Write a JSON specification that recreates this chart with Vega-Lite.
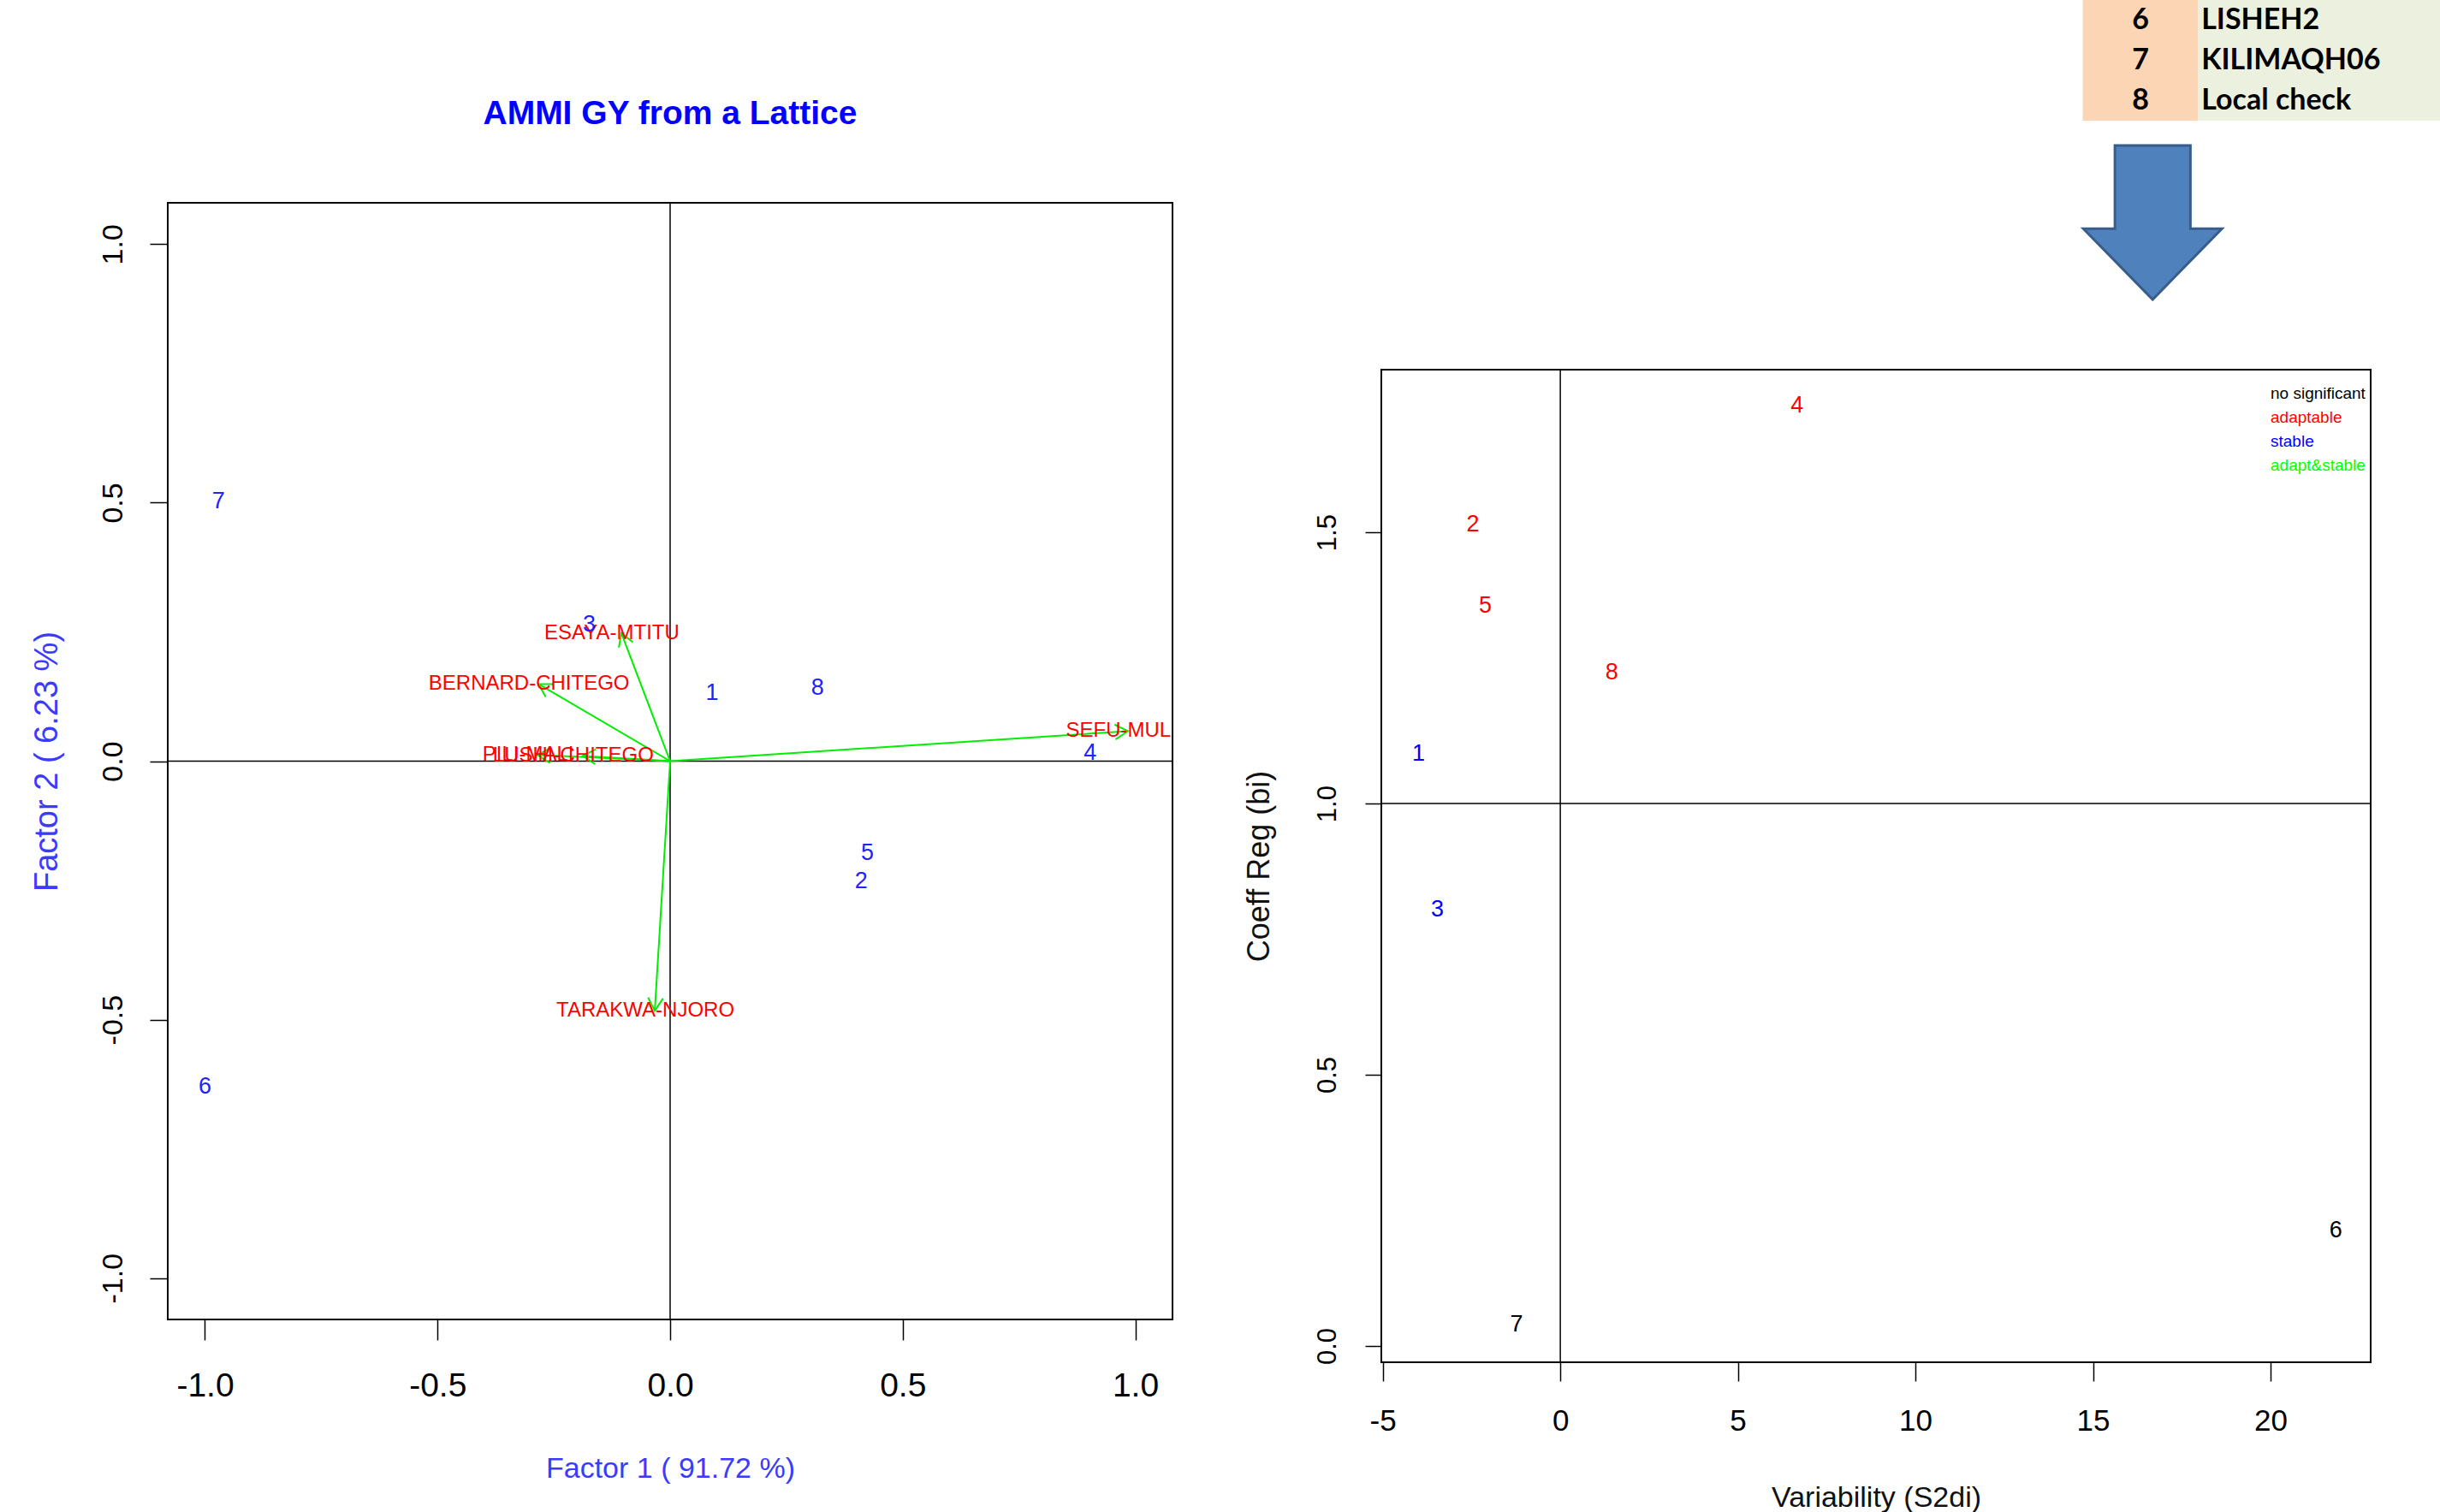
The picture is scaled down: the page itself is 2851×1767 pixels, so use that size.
{
  "$schema": "https://vega.github.io/schema/vega-lite/v6.json",
  "padding": {"left": 35, "top": 0, "right": 0, "bottom": 0},
  "background": "white",
  "config": {
    "view": {"stroke": null},
    "axis": {"domain": false, "grid": false, "tickColor": "#000000", "tickWidth": 1.5, "labelColor": "#000000", "titleFontWeight": "normal", "labelOverlap": false, "labelFlush": false}
  },
  "datasets": {
    "ammi": [
      {"g": "1", "f1": 0.090, "f2": 0.132},
      {"g": "2", "f1": 0.411, "f2": -0.232},
      {"g": "3", "f1": -0.174, "f2": 0.264},
      {"g": "4", "f1": 0.903, "f2": 0.016},
      {"g": "5", "f1": 0.424, "f2": -0.178},
      {"g": "6", "f1": -1.000, "f2": -0.629},
      {"g": "7", "f1": -0.971, "f2": 0.502},
      {"g": "8", "f1": 0.317, "f2": 0.141}
    ],
    "env": [
      {"env": "ESAYA-MTITU", "f1": -0.105, "f2": 0.248},
      {"env": "BERNARD-CHITEGO", "f1": -0.283, "f2": 0.149},
      {"env": "PILI-MALI", "f1": -0.285, "f2": 0.012},
      {"env": "LUSHI-CHITEGO", "f1": -0.188, "f2": 0.010},
      {"env": "SEFU-MUL", "f1": 0.984, "f2": 0.058},
      {"env": "TARAKWA-NJORO", "f1": -0.033, "f2": -0.483}
    ],
    "stab": [
      {"g": "1", "s2di": -3.99, "bi": 1.092, "class": "stable"},
      {"g": "2", "s2di": -2.46, "bi": 1.514, "class": "adaptable"},
      {"g": "3", "s2di": -3.46, "bi": 0.805, "class": "stable"},
      {"g": "4", "s2di": 6.67, "bi": 1.733, "class": "adaptable"},
      {"g": "5", "s2di": -2.11, "bi": 1.365, "class": "adaptable"},
      {"g": "6", "s2di": 21.84, "bi": 0.213, "class": "no significant"},
      {"g": "7", "s2di": -1.23, "bi": 0.040, "class": "no significant"},
      {"g": "8", "s2di": 1.45, "bi": 1.241, "class": "adaptable"}
    ],
    "key": [
      {"no": "6", "name": "LISHEH2"},
      {"no": "7", "name": "KILIMAQH06"},
      {"no": "8", "name": "Local check"}
    ]
  },
  "resolve": {"legend": {"color": "independent"}},
  "hconcat": [
    {
      "spacing": 35,
      "vconcat": [
        {
          "width": 1174,
          "height": 200,
          "data": {"values": [{"title": "AMMI GY from a Lattice"}]},
          "mark": {"type": "text", "font": "Liberation Sans", "fontWeight": "bold", "fontSize": 39, "color": "#0000FF", "dy": 33},
          "encoding": {"text": {"field": "title", "type": "nominal"}}
        },
        {
          "width": 1174,
          "height": 1305,
          "view": {"stroke": "#000000", "strokeWidth": 2},
          "layer": [
            {
              "data": {"values": [{}]},
              "mark": {"type": "rule", "color": "#000000", "strokeWidth": 1.5},
              "encoding": {
                "x": {"datum": 0, "type": "quantitative", "title": "Factor 1 ( 91.72 %)", "scale": {"domain": [-1.08, 1.08], "nice": false, "zero": false}}
              }
            },
            {
              "data": {"values": [{}]},
              "mark": {"type": "rule", "color": "#000000", "strokeWidth": 1.5},
              "encoding": {
                "y": {"datum": 0, "type": "quantitative", "title": "Factor 2 ( 6.23 %)", "scale": {"domain": [-1.08, 1.08], "nice": false, "zero": false}}
              }
            },
            {
              "data": {"name": "env"},
              "mark": {"type": "rule", "color": "#00EE00", "strokeWidth": 2},
              "encoding": {
                "x": {"field": "f1", "type": "quantitative", "title": "Factor 1 ( 91.72 %)", "scale": {"domain": [-1.08, 1.08], "nice": false, "zero": false}},
                "y": {"field": "f2", "type": "quantitative", "title": "Factor 2 ( 6.23 %)", "scale": {"domain": [-1.08, 1.08], "nice": false, "zero": false}},
                "x2": {"datum": 0},
                "y2": {"datum": 0}
              }
            },
            {
              "data": {"name": "env"},
              "mark": {"type": "point", "shape": "M-0.58,1L0,0L0.58,1", "size": 900, "filled": false, "stroke": "#00EE00", "strokeWidth": 2, "opacity": 1, "angle": {"expr": "atan2(datum.f1 * 543.5, datum.f2 * 604.5) * 180 / PI"}},
              "encoding": {
                "x": {"field": "f1", "type": "quantitative", "title": "Factor 1 ( 91.72 %)", "scale": {"domain": [-1.08, 1.08], "nice": false, "zero": false}},
                "y": {"field": "f2", "type": "quantitative", "title": "Factor 2 ( 6.23 %)", "scale": {"domain": [-1.08, 1.08], "nice": false, "zero": false}}
              }
            },
            {
              "data": {"name": "env"},
              "mark": {"type": "text", "color": "#FF0000", "font": "Liberation Sans", "fontSize": 24, "dx": -11, "clip": true},
              "encoding": {
                "x": {"field": "f1", "type": "quantitative", "title": "Factor 1 ( 91.72 %)", "scale": {"domain": [-1.08, 1.08], "nice": false, "zero": false}},
                "y": {"field": "f2", "type": "quantitative", "title": "Factor 2 ( 6.23 %)", "scale": {"domain": [-1.08, 1.08], "nice": false, "zero": false}},
                "text": {"field": "env", "type": "nominal"}
              }
            },
            {
              "data": {"name": "ammi"},
              "mark": {"type": "text", "color": "#2222FF", "font": "Liberation Sans", "fontSize": 27},
              "encoding": {
                "x": {
                  "field": "f1", "type": "quantitative", "title": "Factor 1 ( 91.72 %)",
                  "scale": {"domain": [-1.08, 1.08], "nice": false, "zero": false},
                  "axis": {"values": [-1, -0.5, 0, 0.5, 1], "labelExpr": "replace(format(datum.value, '.1f'), '\u2212', '-')", "tickSize": 24, "labelFont": "Liberation Sans", "labelFontSize": 39, "labelPadding": 34, "titleColor": "#3B3BFF", "titleFont": "Liberation Sans", "titleFontSize": 34, "titlePadding": 60}
                },
                "y": {
                  "field": "f2", "type": "quantitative", "title": "Factor 2 ( 6.23 %)",
                  "scale": {"domain": [-1.08, 1.08], "nice": false, "zero": false},
                  "axis": {"values": [-1, -0.5, 0, 0.5, 1], "labelExpr": "replace(format(datum.value, '.1f'), '\u2212', '-')", "tickSize": 21, "labelAngle": -90, "labelAlign": "center", "labelBaseline": "bottom", "labelFont": "Liberation Sans", "labelFontSize": 34, "labelPadding": 26, "titleColor": "#3B3BFF", "titleFont": "Liberation Sans", "titleFontSize": 38, "titlePadding": 41}
                },
                "text": {"field": "g", "type": "nominal"}
              }
            }
          ]
        }
      ]
    },
    {
      "spacing": 74,
      "resolve": {"legend": {"color": "independent"}},
      "vconcat": [
        {
          "spacing": 23,
          "vconcat": [
            {
              "width": 1238,
              "height": 141,
              "data": {"name": "key"},
              "encoding": {
                "y": {"field": "no", "type": "ordinal", "axis": null, "scale": {"paddingInner": 0, "paddingOuter": 0}}
              },
              "layer": [
                {
                  "mark": {"type": "rect", "color": "#FCD5B4"},
                  "encoding": {"x": {"datum": 0.662, "type": "quantitative", "scale": {"domain": [0, 1], "nice": false, "zero": false}, "axis": null}, "x2": {"datum": 0.771}}
                },
                {
                  "mark": {"type": "rect", "color": "#EBF1DE"},
                  "encoding": {"x": {"datum": 0.771, "type": "quantitative", "scale": {"domain": [0, 1], "nice": false, "zero": false}, "axis": null}, "x2": {"datum": 1}}
                },
                {
                  "mark": {"type": "text", "font": "Lato", "fontWeight": "bold", "fontSize": 34, "color": "#000000", "align": "center"},
                  "encoding": {"x": {"datum": 0.7165, "type": "quantitative", "scale": {"domain": [0, 1], "nice": false, "zero": false}, "axis": null}, "text": {"field": "no", "type": "nominal"}}
                },
                {
                  "mark": {"type": "text", "font": "Lato", "fontWeight": "bold", "fontSize": 34, "color": "#000000", "align": "left"},
                  "encoding": {"x": {"datum": 0.774, "type": "quantitative", "scale": {"domain": [0, 1], "nice": false, "zero": false}, "axis": null}, "text": {"field": "name", "type": "nominal"}}
                }
              ]
            },
            {
              "width": 1238,
              "height": 190,
              "data": {"values": [{}]},
              "mark": {"type": "point", "shape": "M-0.49,-1L0.49,-1L0.49,0.08L0.9,0.08L0,1L-0.9,0.08L-0.49,0.08Z", "size": 32400, "filled": true, "fill": "#4F81BD", "stroke": "#385D8A", "strokeWidth": 3, "opacity": 1, "fillOpacity": 1, "strokeOpacity": 1},
              "encoding": {"x": {"datum": 0.728, "type": "quantitative", "scale": {"domain": [0, 1], "nice": false, "zero": false}, "axis": null}}
            }
          ]
        },
        {
          "width": 1156,
          "height": 1160,
          "view": {"stroke": "#000000", "strokeWidth": 2},
          "layer": [
            {
              "data": {"values": [{}]},
              "mark": {"type": "rule", "color": "#000000", "strokeWidth": 1.5},
              "encoding": {
                "x": {"datum": 0, "type": "quantitative", "title": "Variability (S2di)", "scale": {"domain": [-5.04, 22.82], "nice": false, "zero": false}}
              }
            },
            {
              "data": {"values": [{}]},
              "mark": {"type": "rule", "color": "#000000", "strokeWidth": 1.5},
              "encoding": {
                "y": {"datum": 1, "type": "quantitative", "title": "Coeff Reg (bi)", "scale": {"domain": [-0.03, 1.8], "nice": false, "zero": false}}
              }
            },
            {
              "data": {"name": "stab"},
              "mark": {"type": "text", "font": "Liberation Sans", "fontSize": 27},
              "encoding": {
                "x": {
                  "field": "s2di", "type": "quantitative", "title": "Variability (S2di)",
                  "scale": {"domain": [-5.04, 22.82], "nice": false, "zero": false},
                  "axis": {"values": [-5, 0, 5, 10, 15, 20], "labelExpr": "replace(format(datum.value, 'd'), '\u2212', '-')", "tickSize": 22, "labelFont": "Liberation Sans", "labelFontSize": 35, "labelPadding": 29, "titleColor": "#111111", "titleFont": "Liberation Sans", "titleFontSize": 34, "titlePadding": 55}
                },
                "y": {
                  "field": "bi", "type": "quantitative", "title": "Coeff Reg (bi)",
                  "scale": {"domain": [-0.03, 1.8], "nice": false, "zero": false},
                  "axis": {"values": [0, 0.5, 1, 1.5], "labelExpr": "replace(format(datum.value, '.1f'), '\u2212', '-')", "tickSize": 19, "labelAngle": -90, "labelAlign": "center", "labelBaseline": "bottom", "labelFont": "Liberation Sans", "labelFontSize": 31, "labelPadding": 28, "titleColor": "#111111", "titleFont": "Liberation Sans", "titleFontSize": 36, "titlePadding": 45}
                },
                "text": {"field": "g", "type": "nominal"},
                "color": {
                  "field": "class", "type": "nominal",
                  "scale": {"domain": ["no significant", "adaptable", "stable", "adapt&stable"], "range": ["#000000", "#FF0000", "#0000FF", "#00FF00"]},
                  "legend": {"title": " ", "titleFontSize": 12, "titlePadding": 0, "orient": "top-right", "offset": 0, "padding": 6, "symbolSize": 0, "symbolOpacity": 0, "symbolStrokeWidth": 0, "labelFont": "Liberation Sans", "labelFontSize": 19, "labelOffset": 0, "rowPadding": 8, "labelColor": {"expr": "datum.label == 'adaptable' ? '#FF0000' : datum.label == 'stable' ? '#0000FF' : datum.label == 'adapt&stable' ? '#00FF00' : '#000000'"}}
                }
              }
            }
          ]
        }
      ]
    }
  ],
  "spacing": 80
}
